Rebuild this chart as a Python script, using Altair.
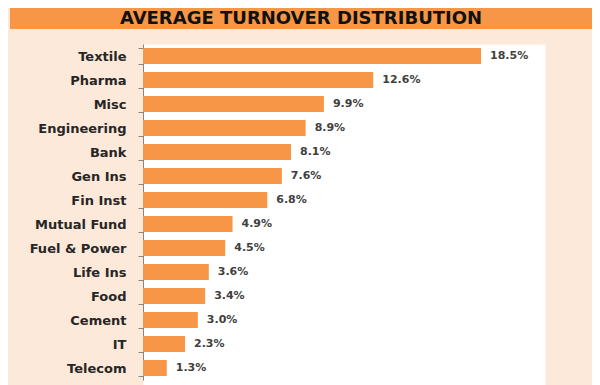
import altair as alt
import pandas as pd

categories = ["Textile", "Pharma", "Misc", "Engineering", "Bank", "Gen Ins", "Fin Inst",
              "Mutual Fund", "Fuel & Power", "Life Ins", "Food", "Cement", "IT", "Telecom"]
shares = [18.5, 12.6, 9.9, 8.9, 8.1, 7.6, 6.8, 4.9, 4.5, 3.6, 3.4, 3.0, 2.3, 1.3]
value_labels = [f"{v:.1f}%" for v in shares]
title_text = "AVERAGE TURNOVER DISTRIBUTION"

df = pd.DataFrame({"sector": categories, "share": shares, "label": value_labels})
title_df = pd.DataFrame({"t": [title_text]})

ORANGE = "#F79646"
PEACH = "#FDE9D9"
FONT = "DejaVu Sans"

y = alt.Y(
    "sector:N",
    sort=categories,
    scale=alt.Scale(range=[0, 336], paddingInner=0.33, paddingOuter=0.165),
    axis=alt.Axis(
        title=None, tickBand="extent", domainColor="#868686", tickColor="#868686",
        tickSize=5, labelPadding=12, labelFont=FONT, labelFontWeight="bold",
        labelFontSize=13, labelColor="#262626", grid=False,
    ),
)
x = alt.X("share:Q", scale=alt.Scale(domain=[0, 22], nice=False), axis=None)

bars = alt.Chart(df).mark_bar(color=ORANGE).encode(x=x, y=y)
texts = alt.Chart(df).mark_text(
    align="left", baseline="middle", dx=9, font=FONT, fontSize=11,
    fontWeight="bold", color="#404040",
).encode(x=x, y=y, text="label:N")

banner = alt.Chart(title_df).mark_rect(color=ORANGE).encode(
    x=alt.value(-133), x2=alt.value(449), y=alt.value(-36), y2=alt.value(-15)
)
banner_text = alt.Chart(title_df).mark_text(
    font=FONT, fontSize=18, fontWeight="bold", color="#111111",
    align="center", baseline="middle",
).encode(x=alt.value(158), y=alt.value(-25), text="t:N")

chart = alt.layer(banner, banner_text, bars, texts).properties(
    width=402,
    height=341,
    autosize=alt.AutoSizeParams(type="none"),
    padding={"left": 135, "top": 36, "right": 47, "bottom": 0},
    background=PEACH,
).configure_view(fill="white", stroke="transparent")

chart.save("out.html", embed_options={"renderer": "svg", "actions": False})
